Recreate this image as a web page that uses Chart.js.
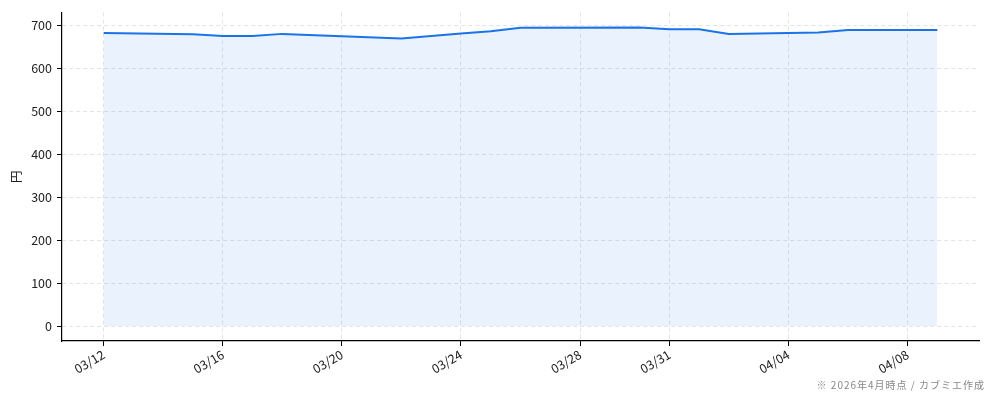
<!DOCTYPE html>
<html>
<head>
<meta charset="utf-8">
<script src="https://cdn.jsdelivr.net/npm/chart.js@4"></script>
<style>
  html, body { margin: 0; padding: 0; background: #fff; }
  #wrap { position: relative; width: 994px; height: 401px; }
  #note {
    position: absolute; right: 9px; top: 377px;
    font: 10px "Noto Sans CJK JP", sans-serif; color: #888; letter-spacing: 1px;
  }
</style>
</head>
<body>
<div id="wrap">
  <canvas id="priceChart" width="994" height="401"></canvas>
  <div id="note">※ 2026年4月時点 / カブミエ作成</div>
</div>
<script>
// days counted from 03/12
const dayOffsets = [0, 3, 4, 5, 6, 10, 12, 13, 14, 18, 19, 20, 21, 24, 25, 28];
const prices = [682, 679, 675, 675, 680, 669, 681, 686, 694, 695, 691, 691, 680, 683, 689, 689];
const tickDays = [0, 4, 8, 12, 16, 19, 23, 27];
const tickLabels = ["03/12", "03/16", "03/20", "03/24", "03/28", "03/31", "04/04", "04/08"];
const yTicks = [0, 100, 200, 300, 400, 500, 600, 700];

const FONT = "'Noto Sans CJK JP', 'DejaVu Sans', sans-serif";
const gridColor = "#e3e3e8";

const ctx = document.getElementById("priceChart").getContext("2d");
new Chart(ctx, {
  type: "line",
  data: {
    datasets: [{
      data: dayOffsets.map((d, i) => ({ x: d, y: prices[i] })),
      borderColor: "#1a73e8",
      backgroundColor: "rgba(26,115,232,0.09)",
      borderWidth: 2,
      pointRadius: 0,
      tension: 0,
      fill: "origin",
    }],
  },
  options: {
    responsive: false,
    animation: false,
    layout: { padding: { top: 9, right: 15, left: 0, bottom: 0 } },
    plugins: { legend: { display: false }, tooltip: { enabled: false } },
    scales: {
      x: {
        type: "linear",
        min: -1.4,
        max: 29.4,
        afterBuildTicks: (s) => { s.ticks = tickDays.map((v) => ({ value: v })); },
        afterFit: (s) => { s.height = 60; },
        ticks: {
          autoSkip: false,
          minRotation: 30,
          maxRotation: 30,
          padding: 1,
          color: "#222",
          font: { family: FONT, size: 12.5 },
          callback: (v) => tickLabels[tickDays.indexOf(v)] ?? "",
        },
        grid: { color: gridColor, tickColor: "#000", tickLength: 5, tickBorderDash: [] },
        border: { display: true, color: "#000", width: 1.2, dash: [4, 3] },
      },
      y: {
        min: -34.75,
        max: 729.75,
        afterBuildTicks: (s) => { s.ticks = yTicks.map((v) => ({ value: v })); },
        afterFit: (s) => { s.width = 62; },
        title: {
          display: true,
          text: "円",
          color: "#222",
          font: { family: FONT, size: 12.5 },
          padding: { top: 9, bottom: 0 },
        },
        ticks: {
          padding: 5,
          color: "#222",
          font: { family: FONT, size: 12.5 },
        },
        grid: { color: gridColor, tickColor: "#000", tickLength: 5, tickBorderDash: [] },
        border: { display: true, color: "#000", width: 1.2, dash: [4, 3] },
      },
    },
  },
});
</script>
</body>
</html>
